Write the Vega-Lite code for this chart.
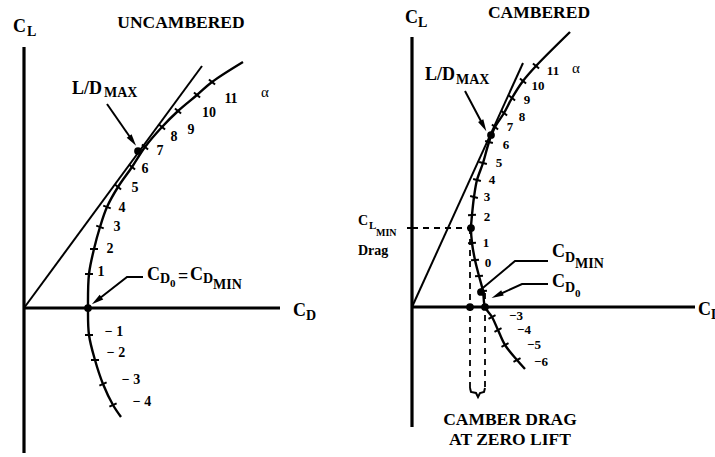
{
  "$schema": "https://vega.github.io/schema/vega-lite/v6.json",
  "padding": 0,
  "spacing": 0,
  "background": "white",
  "config": {"view": {"stroke": null}},
  "datasets": {
    "L_axes": [
      {"g": "v", "o": 1, "x": 0, "y": 1.305}, {"g": "v", "o": 2, "x": 0, "y": -0.725},
      {"g": "h", "o": 1, "x": 0, "y": 0}, {"g": "h", "o": 2, "x": 0.0256, "y": 0}
    ],
    "L_lines": [
      {"g": "tangent", "o": 1, "x": 0, "y": 0}, {"g": "tangent", "o": 2, "x": 0.0178, "y": 1.21},
      {"g": "ld", "o": 1, "x": 0.0083, "y": 1.02}, {"g": "ld", "o": 2, "x": 0.0108, "y": 0.84},
      {"g": "cd0", "o": 1, "x": 0.0119, "y": 0.155}, {"g": "cd0", "o": 2, "x": 0.0103, "y": 0.155}, {"g": "cd0", "o": 3, "x": 0.00735, "y": 0.04}
    ],
    "L_curve": [
      {"o": 1, "x": 0.0097, "y": -0.545},
      {"o": 2, "x": 0.0089, "y": -0.485, "a": -4},
      {"o": 3, "x": 0.0079, "y": -0.38, "a": -3},
      {"o": 4, "x": 0.0071, "y": -0.26, "a": -2},
      {"o": 5, "x": 0.0065, "y": -0.135, "a": -1},
      {"o": 6, "x": 0.0064, "y": 0},
      {"o": 7, "x": 0.0065, "y": 0.17, "a": 1},
      {"o": 8, "x": 0.007, "y": 0.295, "a": 2},
      {"o": 9, "x": 0.0076, "y": 0.405, "a": 3},
      {"o": 10, "x": 0.0083, "y": 0.505, "a": 4},
      {"o": 11, "x": 0.0094, "y": 0.605, "a": 5},
      {"o": 12, "x": 0.0108, "y": 0.705, "a": 6},
      {"o": 13, "x": 0.0121, "y": 0.805, "a": 7},
      {"o": 14, "x": 0.0138, "y": 0.905, "a": 8},
      {"o": 15, "x": 0.0154, "y": 0.985, "a": 9},
      {"o": 16, "x": 0.0173, "y": 1.065, "a": 10},
      {"o": 17, "x": 0.0188, "y": 1.13, "a": 11},
      {"o": 18, "x": 0.0219, "y": 1.23}
    ],
    "L_dots": [{"x": 0.0114, "y": 0.785}, {"x": 0.0064, "y": 0}],
    "L_heads": [{"id": "ld", "x": 0.0108, "y": 0.84}, {"id": "cd0", "x": 0.00735, "y": 0.04}],
    "L_big": [
      {"t": "C", "x": -0.0011, "y": 1.405}, {"t": "L/D", "x": 0.0048, "y": 1.095},
      {"t": "C", "x": 0.0123, "y": 0.165}, {"t": "=", "x": 0.0154, "y": 0.155},
      {"t": "C", "x": 0.0166, "y": 0.165}, {"t": "C", "x": 0.0269, "y": -0.015}
    ],
    "L_sub": [
      {"t": "L", "x": 0.0003, "y": 1.38}, {"t": "MAX", "x": 0.008, "y": 1.075},
      {"t": "D", "x": 0.0136, "y": 0.145}, {"t": "D", "x": 0.0179, "y": 0.145},
      {"t": "MIN", "x": 0.0189, "y": 0.115}, {"t": "D", "x": 0.0282, "y": -0.04}
    ],
    "L_ss": [{"t": "0", "x": 0.0146, "y": 0.12}],
    "L_title": [{"t": "UNCAMBERED", "x": 0.0157, "y": 1.425}],
    "L_num": [
      {"t": "1", "x": 0.0077, "y": 0.18}, {"t": "2", "x": 0.0086, "y": 0.295},
      {"t": "3", "x": 0.0093, "y": 0.405}, {"t": "4", "x": 0.0098, "y": 0.5},
      {"t": "5", "x": 0.0111, "y": 0.6}, {"t": "6", "x": 0.0121, "y": 0.695},
      {"t": "7", "x": 0.0136, "y": 0.785}, {"t": "8", "x": 0.015, "y": 0.855},
      {"t": "9", "x": 0.0167, "y": 0.89}, {"t": "10", "x": 0.0185, "y": 0.975},
      {"t": "11", "x": 0.0207, "y": 1.045},
      {"t": "− 1", "x": 0.009, "y": -0.12}, {"t": "− 2", "x": 0.0092, "y": -0.225},
      {"t": "− 3", "x": 0.0107, "y": -0.36}, {"t": "− 4", "x": 0.0118, "y": -0.47}
    ],
    "L_alpha": [{"t": "α", "x": 0.0241, "y": 1.08}],
    "R_axes": [
      {"g": "v", "o": 1, "x": 0, "y": 1.35}, {"g": "v", "o": 2, "x": 0, "y": -0.6},
      {"g": "h", "o": 1, "x": 0, "y": 0}, {"g": "h", "o": 2, "x": 0.0283, "y": 0}
    ],
    "R_lines": [
      {"g": "tangent", "o": 1, "x": 0, "y": 0}, {"g": "tangent", "o": 2, "x": 0.0111, "y": 1.22},
      {"g": "ld", "o": 1, "x": 0.0053, "y": 1.08}, {"g": "ld", "o": 2, "x": 0.0071, "y": 0.91},
      {"g": "cdmin", "o": 1, "x": 0.0136, "y": 0.23}, {"g": "cdmin", "o": 2, "x": 0.0103, "y": 0.23}, {"g": "cdmin", "o": 3, "x": 0.0066, "y": 0.075},
      {"g": "cd0", "o": 1, "x": 0.0136, "y": 0.115}, {"g": "cd0", "o": 2, "x": 0.011, "y": 0.115}, {"g": "cd0", "o": 3, "x": 0.0086, "y": 0.06},
      {"g": "cltick", "o": 1, "x": -0.0005, "y": 0.395}, {"g": "cltick", "o": 2, "x": 0.0005, "y": 0.395},
      {"g": "brace", "o": 1, "x": 0.0058, "y": -0.405}, {"g": "brace", "o": 2, "x": 0.0059, "y": -0.425},
      {"g": "brace", "o": 3, "x": 0.0064, "y": -0.43}, {"g": "brace", "o": 4, "x": 0.0066, "y": -0.45},
      {"g": "brace", "o": 5, "x": 0.0068, "y": -0.43}, {"g": "brace", "o": 6, "x": 0.0072, "y": -0.425},
      {"g": "brace", "o": 7, "x": 0.0073, "y": -0.405}
    ],
    "R_dashed": [
      {"g": "h", "o": 1, "x": 0, "y": 0.395}, {"g": "h", "o": 2, "x": 0.0059, "y": 0.395},
      {"g": "l", "o": 1, "x": 0.0058, "y": 0.395}, {"g": "l", "o": 2, "x": 0.0058, "y": -0.405},
      {"g": "r", "o": 1, "x": 0.0073, "y": 0.07}, {"g": "r", "o": 2, "x": 0.0073, "y": -0.405}
    ],
    "R_curve": [
      {"o": 1, "x": 0.0113, "y": -0.31},
      {"o": 2, "x": 0.0105, "y": -0.265, "a": -6},
      {"o": 3, "x": 0.0093, "y": -0.19, "a": -5},
      {"o": 4, "x": 0.0086, "y": -0.115, "a": -4},
      {"o": 5, "x": 0.008, "y": -0.05, "a": -3},
      {"o": 6, "x": 0.0073, "y": 0},
      {"o": 7, "x": 0.0071, "y": 0.08, "a": -2},
      {"o": 8, "x": 0.0067, "y": 0.155, "a": -1},
      {"o": 9, "x": 0.0063, "y": 0.235, "a": 0},
      {"o": 10, "x": 0.006, "y": 0.32, "a": 1},
      {"o": 11, "x": 0.0059, "y": 0.395},
      {"o": 12, "x": 0.006, "y": 0.46, "a": 2},
      {"o": 13, "x": 0.0062, "y": 0.55, "a": 3},
      {"o": 14, "x": 0.0065, "y": 0.635, "a": 4},
      {"o": 15, "x": 0.0071, "y": 0.72, "a": 5},
      {"o": 16, "x": 0.0077, "y": 0.825, "a": 6},
      {"o": 17, "x": 0.0083, "y": 0.9, "a": 7},
      {"o": 18, "x": 0.0092, "y": 0.97, "a": 8},
      {"o": 19, "x": 0.01, "y": 1.045, "a": 9},
      {"o": 20, "x": 0.0111, "y": 1.13, "a": 10},
      {"o": 21, "x": 0.0124, "y": 1.205, "a": 11},
      {"o": 22, "x": 0.0158, "y": 1.375}
    ],
    "R_dots": [
      {"x": 0.0079, "y": 0.86}, {"x": 0.0059, "y": 0.395},
      {"x": 0.0058, "y": 0}, {"x": 0.0073, "y": 0}, {"x": 0.0069, "y": 0.075}
    ],
    "R_heads": [{"id": "ld", "x": 0.0071, "y": 0.91}, {"id": "cd0", "x": 0.0086, "y": 0.06}],
    "R_big": [
      {"t": "C", "x": -0.0007, "y": 1.445}, {"t": "L/D", "x": 0.0013, "y": 1.16},
      {"t": "C", "x": 0.014, "y": 0.275}, {"t": "C", "x": 0.014, "y": 0.125},
      {"t": "C", "x": 0.0286, "y": -0.015}
    ],
    "R_sub": [
      {"t": "L", "x": 0.0006, "y": 1.42}, {"t": "MAX", "x": 0.0044, "y": 1.135},
      {"t": "D", "x": 0.0153, "y": 0.245}, {"t": "MIN", "x": 0.0163, "y": 0.215},
      {"t": "D", "x": 0.0153, "y": 0.095}, {"t": "D", "x": 0.0299, "y": -0.04}
    ],
    "R_ss": [{"t": "0", "x": 0.0163, "y": 0.065}],
    "R_small": [{"t": "C", "x": -0.0054, "y": 0.43}, {"t": "Drag", "x": -0.0054, "y": 0.28}],
    "R_small_sub": [{"t": "L", "x": -0.0043, "y": 0.405}],
    "R_small_ss": [{"t": "MIN", "x": -0.0036, "y": 0.37}],
    "R_title": [
      {"t": "CAMBERED", "x": 0.0127, "y": 1.47},
      {"t": "CAMBER DRAG", "x": 0.0098, "y": -0.565},
      {"t": "AT ZERO LIFT", "x": 0.0098, "y": -0.665}
    ],
    "R_num": [
      {"t": "2", "x": 0.0075, "y": 0.45}, {"t": "3", "x": 0.0075, "y": 0.55},
      {"t": "4", "x": 0.008, "y": 0.635}, {"t": "5", "x": 0.0087, "y": 0.72},
      {"t": "6", "x": 0.0094, "y": 0.81}, {"t": "7", "x": 0.0098, "y": 0.9},
      {"t": "8", "x": 0.011, "y": 0.95}, {"t": "9", "x": 0.0115, "y": 1.035},
      {"t": "10", "x": 0.0126, "y": 1.105}, {"t": "11", "x": 0.0141, "y": 1.18},
      {"t": "1", "x": 0.0074, "y": 0.32}, {"t": "0", "x": 0.0076, "y": 0.22},
      {"t": "−3", "x": 0.0104, "y": -0.045}, {"t": "−4", "x": 0.0112, "y": -0.115},
      {"t": "−5", "x": 0.0122, "y": -0.19}, {"t": "−6", "x": 0.0129, "y": -0.275}
    ],
    "R_alpha": [{"t": "α", "x": 0.0164, "y": 1.195}]
  },
  "hconcat": [
    {
      "width": 357,
      "height": 457,
      "encoding": {
        "x": {"field": "x", "type": "quantitative", "scale": {"domain": [-0.0024, 0.0333], "nice": false, "zero": false}, "axis": null},
        "y": {"field": "y", "type": "quantitative", "scale": {"domain": [-0.745, 1.54], "nice": false, "zero": false}, "axis": null}
      },
      "layer": [
        {"data": {"name": "L_axes"}, "mark": {"type": "line", "color": "black", "strokeWidth": 3.2, "strokeCap": "butt"},
         "encoding": {"detail": {"field": "g", "type": "nominal"}, "order": {"field": "o", "type": "quantitative"}}},
        {"data": {"name": "L_lines"}, "mark": {"type": "line", "color": "black", "strokeWidth": 2},
         "encoding": {"detail": {"field": "g", "type": "nominal"}, "order": {"field": "o", "type": "quantitative"}}},
        {"data": {"name": "L_curve"}, "mark": {"type": "line", "color": "black", "strokeWidth": 2.4, "interpolate": "catmull-rom"},
         "encoding": {"order": {"field": "o", "type": "quantitative"}}},
        {"data": {"name": "L_curve"}, "transform": [{"filter": "isValid(datum.a) && datum.a >= 5"}],
         "mark": {"type": "point", "shape": "M-1,0L1,0", "size": 64, "stroke": "black", "strokeWidth": 2, "filled": false, "opacity": 1, "angle": 40}},
        {"data": {"name": "L_curve"}, "transform": [{"filter": "isValid(datum.a) && datum.a >= 3 && datum.a <= 4"}],
         "mark": {"type": "point", "shape": "M-1,0L1,0", "size": 64, "stroke": "black", "strokeWidth": 2, "filled": false, "opacity": 1, "angle": 20}},
        {"data": {"name": "L_curve"}, "transform": [{"filter": "isValid(datum.a) && datum.a >= -2 && datum.a <= 2"}],
         "mark": {"type": "point", "shape": "M-1,0L1,0", "size": 64, "stroke": "black", "strokeWidth": 2, "filled": false, "opacity": 1, "angle": 0}},
        {"data": {"name": "L_curve"}, "transform": [{"filter": "isValid(datum.a) && datum.a <= -3"}],
         "mark": {"type": "point", "shape": "M-1,0L1,0", "size": 64, "stroke": "black", "strokeWidth": 2, "filled": false, "opacity": 1, "angle": -25}},
        {"data": {"name": "L_dots"}, "mark": {"type": "point", "shape": "circle", "size": 60, "filled": true, "color": "black", "opacity": 1}},
        {"data": {"name": "L_heads"}, "transform": [{"filter": "datum.id == 'ld'"}],
         "mark": {"type": "point", "shape": "M0,-1L0.42,0.7L-0.42,0.7Z", "size": 200, "filled": true, "color": "black", "opacity": 1, "angle": 145}},
        {"data": {"name": "L_heads"}, "transform": [{"filter": "datum.id == 'cd0'"}],
         "mark": {"type": "point", "shape": "M0,-1L0.42,0.7L-0.42,0.7Z", "size": 200, "filled": true, "color": "black", "opacity": 1, "angle": 233}},
        {"data": {"name": "L_big"}, "mark": {"type": "text", "font": "Liberation Serif", "fontWeight": "bold", "fontSize": 18, "align": "left", "baseline": "middle", "color": "black"},
         "encoding": {"text": {"field": "t"}}},
        {"data": {"name": "L_sub"}, "mark": {"type": "text", "font": "Liberation Serif", "fontWeight": "bold", "fontSize": 14, "align": "left", "baseline": "middle", "color": "black"},
         "encoding": {"text": {"field": "t"}}},
        {"data": {"name": "L_ss"}, "mark": {"type": "text", "font": "Liberation Serif", "fontWeight": "bold", "fontSize": 11, "align": "left", "baseline": "middle", "color": "black"},
         "encoding": {"text": {"field": "t"}}},
        {"data": {"name": "L_title"}, "mark": {"type": "text", "font": "Liberation Serif", "fontWeight": "bold", "fontSize": 17.5, "align": "center", "baseline": "middle", "color": "black"},
         "encoding": {"text": {"field": "t"}}},
        {"data": {"name": "L_num"}, "mark": {"type": "text", "font": "Liberation Serif", "fontWeight": "bold", "fontSize": 14, "align": "center", "baseline": "middle", "color": "black"},
         "encoding": {"text": {"field": "t"}}},
        {"data": {"name": "L_alpha"}, "mark": {"type": "text", "font": "Liberation Serif", "fontSize": 15, "align": "center", "baseline": "middle", "color": "black"},
         "encoding": {"text": {"field": "t"}}}
      ]
    },
    {
      "width": 358,
      "height": 457,
      "encoding": {
        "x": {"field": "x", "type": "quantitative", "scale": {"domain": [-0.0055, 0.0303], "nice": false, "zero": false}, "axis": null},
        "y": {"field": "y", "type": "quantitative", "scale": {"domain": [-0.75, 1.535], "nice": false, "zero": false}, "axis": null}
      },
      "layer": [
        {"data": {"name": "R_axes"}, "mark": {"type": "line", "color": "black", "strokeWidth": 3.2, "strokeCap": "butt"},
         "encoding": {"detail": {"field": "g", "type": "nominal"}, "order": {"field": "o", "type": "quantitative"}}},
        {"data": {"name": "R_lines"}, "mark": {"type": "line", "color": "black", "strokeWidth": 2},
         "encoding": {"detail": {"field": "g", "type": "nominal"}, "order": {"field": "o", "type": "quantitative"}}},
        {"data": {"name": "R_dashed"}, "mark": {"type": "line", "color": "black", "strokeWidth": 1.8, "strokeDash": [6, 5]},
         "encoding": {"detail": {"field": "g", "type": "nominal"}, "order": {"field": "o", "type": "quantitative"}}},
        {"data": {"name": "R_curve"}, "mark": {"type": "line", "color": "black", "strokeWidth": 2.4, "interpolate": "catmull-rom"},
         "encoding": {"order": {"field": "o", "type": "quantitative"}}},
        {"data": {"name": "R_curve"}, "transform": [{"filter": "isValid(datum.a) && datum.a >= 7"}],
         "mark": {"type": "point", "shape": "M-1,0L1,0", "size": 64, "stroke": "black", "strokeWidth": 2, "filled": false, "opacity": 1, "angle": 40}},
        {"data": {"name": "R_curve"}, "transform": [{"filter": "isValid(datum.a) && datum.a >= 3 && datum.a <= 6"}],
         "mark": {"type": "point", "shape": "M-1,0L1,0", "size": 64, "stroke": "black", "strokeWidth": 2, "filled": false, "opacity": 1, "angle": 15}},
        {"data": {"name": "R_curve"}, "transform": [{"filter": "isValid(datum.a) && datum.a >= -2 && datum.a <= 2"}],
         "mark": {"type": "point", "shape": "M-1,0L1,0", "size": 64, "stroke": "black", "strokeWidth": 2, "filled": false, "opacity": 1, "angle": -5}},
        {"data": {"name": "R_curve"}, "transform": [{"filter": "isValid(datum.a) && datum.a <= -3"}],
         "mark": {"type": "point", "shape": "M-1,0L1,0", "size": 64, "stroke": "black", "strokeWidth": 2, "filled": false, "opacity": 1, "angle": -28}},
        {"data": {"name": "R_dots"}, "mark": {"type": "point", "shape": "circle", "size": 60, "filled": true, "color": "black", "opacity": 1}},
        {"data": {"name": "R_heads"}, "transform": [{"filter": "datum.id == 'ld'"}],
         "mark": {"type": "point", "shape": "M0,-1L0.42,0.7L-0.42,0.7Z", "size": 200, "filled": true, "color": "black", "opacity": 1, "angle": 152}},
        {"data": {"name": "R_heads"}, "transform": [{"filter": "datum.id == 'cd0'"}],
         "mark": {"type": "point", "shape": "M0,-1L0.42,0.7L-0.42,0.7Z", "size": 200, "filled": true, "color": "black", "opacity": 1, "angle": 245}},
        {"data": {"name": "R_big"}, "mark": {"type": "text", "font": "Liberation Serif", "fontWeight": "bold", "fontSize": 18, "align": "left", "baseline": "middle", "color": "black", "clip": true},
         "encoding": {"text": {"field": "t"}}},
        {"data": {"name": "R_sub"}, "mark": {"type": "text", "font": "Liberation Serif", "fontWeight": "bold", "fontSize": 14, "align": "left", "baseline": "middle", "color": "black", "clip": true},
         "encoding": {"text": {"field": "t"}}},
        {"data": {"name": "R_ss"}, "mark": {"type": "text", "font": "Liberation Serif", "fontWeight": "bold", "fontSize": 11, "align": "left", "baseline": "middle", "color": "black"},
         "encoding": {"text": {"field": "t"}}},
        {"data": {"name": "R_small"}, "mark": {"type": "text", "font": "Liberation Serif", "fontWeight": "bold", "fontSize": 14, "align": "left", "baseline": "middle", "color": "black"},
         "encoding": {"text": {"field": "t"}}},
        {"data": {"name": "R_small_sub"}, "mark": {"type": "text", "font": "Liberation Serif", "fontWeight": "bold", "fontSize": 11, "align": "left", "baseline": "middle", "color": "black"},
         "encoding": {"text": {"field": "t"}}},
        {"data": {"name": "R_small_ss"}, "mark": {"type": "text", "font": "Liberation Serif", "fontWeight": "bold", "fontSize": 10, "align": "left", "baseline": "middle", "color": "black"},
         "encoding": {"text": {"field": "t"}}},
        {"data": {"name": "R_title"}, "mark": {"type": "text", "font": "Liberation Serif", "fontWeight": "bold", "fontSize": 17.5, "align": "center", "baseline": "middle", "color": "black"},
         "encoding": {"text": {"field": "t"}}},
        {"data": {"name": "R_num"}, "mark": {"type": "text", "font": "Liberation Serif", "fontWeight": "bold", "fontSize": 13, "align": "center", "baseline": "middle", "color": "black"},
         "encoding": {"text": {"field": "t"}}},
        {"data": {"name": "R_alpha"}, "mark": {"type": "text", "font": "Liberation Serif", "fontSize": 15, "align": "center", "baseline": "middle", "color": "black"},
         "encoding": {"text": {"field": "t"}}}
      ]
    }
  ]
}
